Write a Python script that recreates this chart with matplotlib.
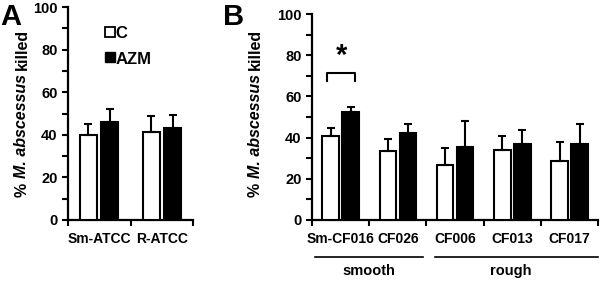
import numpy as np
import matplotlib
matplotlib.use("Agg")
import matplotlib.pyplot as plt
import matplotlib.transforms as mtransforms

plt.rcParams["font.family"] = ["Liberation Sans", "DejaVu Sans"]
plt.rcParams["font.weight"] = "bold"

# =========================
# data
# =========================
strains_a = ["Sm-ATCC", "R-ATCC"]
c_a = [40.0, 41.5]
c_a_err = [5.0, 7.3]
azm_a = [46.0, 43.2]
azm_a_err = [6.0, 6.1]

strains_b = ["Sm-CF016", "CF026", "CF006", "CF013", "CF017"]
c_b = [40.8, 33.7, 26.7, 34.0, 28.8]
c_b_err = [3.7, 5.5, 8.1, 6.8, 9.2]
azm_b = [52.6, 42.1, 35.6, 36.7, 36.9]
azm_b_err = [2.1, 4.5, 12.6, 7.0, 9.7]

YLABEL_PARTS = [("%", "normal"), ("M. abscessus", "italic"), ("killed", "normal")]


def draw_bars(ax, c, c_err, azm, azm_err, width, off):
    x = np.arange(len(c))
    ekw = dict(elinewidth=1.5, capthick=1.5, capsize=3, ecolor="black")
    ax.bar(x - off, c, width, color="white", edgecolor="black", linewidth=1.5,
           yerr=[np.zeros(len(c)), c_err], error_kw=ekw, label="C", zorder=3)
    ax.bar(x + off, azm, width, color="black", edgecolor="black", linewidth=1.5,
           yerr=[np.zeros(len(azm)), azm_err], error_kw=ekw, label="AZM", zorder=3)
    return x


def style_axis(ax, n, labels):
    ax.set_xlim(-0.5, n - 0.5)
    ax.set_ylim(0, 100)
    for s in ["top", "right"]:
        ax.spines[s].set_visible(False)
    for s in ["left", "bottom"]:
        ax.spines[s].set_linewidth(1.6)
    ax.set_yticks(np.arange(0, 101, 20))
    ax.set_yticks(np.arange(10, 100, 20), minor=True)
    ax.set_xticks(np.arange(n))
    ax.set_xticklabels(labels, fontweight="bold")
    ax.set_xticks(np.arange(n + 1) - 0.5, minor=True)
    ax.tick_params(axis="x", which="major", length=0, pad=9, labelsize=10)
    ax.tick_params(axis="x", which="minor", length=4, width=1.5)
    ax.tick_params(axis="y", which="both", length=4, width=1.5, labelsize=10.5)
    for t in ax.get_yticklabels():
        t.set_fontweight("bold")


def rotated_ylabel(fig, x_px, y_center_px, size=11.5, gap=4.5):
    # build the label from pieces so only the species name is italic
    renderer = fig.canvas.get_renderer()
    texts = []
    for s, style in YLABEL_PARTS:
        t = fig.text(0, 0, s, rotation=90, fontsize=size, fontweight="bold",
                     fontstyle=style, ha="center", va="bottom",
                     transform=None)
        texts.append(t)
    heights = [t.get_window_extent(renderer).height for t in texts]
    total = sum(heights) + gap * (len(texts) - 1)
    y = y_center_px - total / 2
    for t, h in zip(texts, heights):
        t.set_position((x_px, y))
        y += h + gap


fig = plt.figure(figsize=(6.0, 2.82), dpi=100)
H = 282

# -------------------------
# A
# -------------------------
ax_a = fig.add_axes([0.113, 0.22, 0.209, 0.755])
draw_bars(ax_a, c_a, c_a_err, azm_a, azm_a_err, 0.27, 0.17)
style_axis(ax_a, len(strains_a), strains_a)

# legend as text + square markers
ax_a.plot([0.18], [88.5], marker="s", ms=7, mfc="white", mec="black", mew=1.3,
          clip_on=False, zorder=4)
ax_a.text(0.26, 87.5, "C", fontsize=12, va="center", ha="left")
ax_a.plot([0.18], [76.5], marker="s", ms=7, mfc="black", mec="black",
          clip_on=False, zorder=4)
ax_a.text(0.26, 75.5, "AZM", fontsize=12, va="center", ha="left")

fig.text(0.0, 0.99, "A", fontsize=21, fontweight="bold", va="top", ha="left")

# -------------------------
# B
# -------------------------
ax_b = fig.add_axes([0.52, 0.22, 0.477, 0.73])
draw_bars(ax_b, c_b, c_b_err, azm_b, azm_b_err, 0.29, 0.175)
style_axis(ax_b, len(strains_b), strains_b)

# significance bracket
ax_b.plot([-0.23, -0.23, 0.25, 0.25], [67.5, 71.5, 71.5, 67.5], color="black",
          lw=1.5, zorder=4)
ax_b.text(0.01, 73, "*", fontsize=21, ha="center", va="bottom")

# group underline + labels
trans = mtransforms.blended_transform_factory(ax_b.transData, ax_b.transAxes)
ax_b.plot([-0.45, 1.44], [-0.18, -0.18], color="black", lw=1.2,
          transform=trans, clip_on=False)
ax_b.plot([1.65, 4.5], [-0.18, -0.18], color="black", lw=1.2,
          transform=trans, clip_on=False)
ax_b.text(0.5, -0.25, "smooth", fontsize=10.5, ha="center", va="center",
          transform=trans)
ax_b.text(2.97, -0.25, "rough", fontsize=10.5, ha="center", va="center",
          transform=trans)

fig.text(0.372, 0.99, "B", fontsize=21, fontweight="bold", va="top", ha="left")

# y labels (pixel coordinates, origin bottom-left)
rotated_ylabel(fig, 22, H - 113)
rotated_ylabel(fig, 255, H - 113)

fig.savefig("out.png", dpi=100)
